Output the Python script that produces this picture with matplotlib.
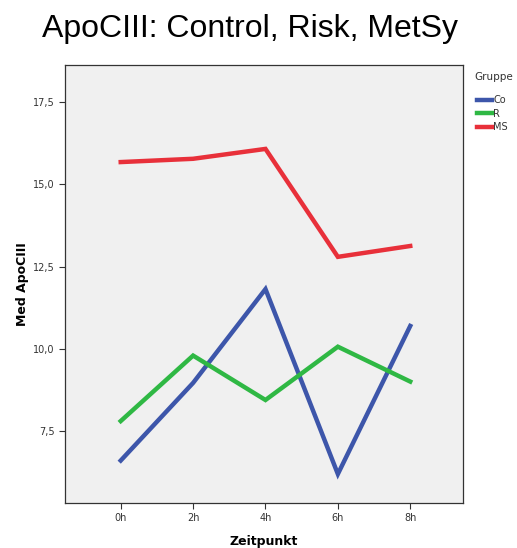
import matplotlib.pyplot as plt

# Data
zeitpunkt = ['0h', '2h', '4h', '6h', '8h']
co = [6.61, 8.97, 11.82, 6.20, 10.70]
r = [7.81, 9.80, 8.45, 10.07, 9.01]
ms = [15.68, 15.78, 16.08, 12.80, 13.13]
yticks = [7.5, 10.0, 12.5, 15.0, 17.5]

fig = plt.figure(figsize=(5.17, 5.48), dpi=100)
ax = fig.add_axes([0.1257, 0.0821, 0.770, 0.7993])
ax.set_facecolor('#f0f0f0')

x = range(len(zeitpunkt))
ax.plot(x, co, color='#3d56aa', lw=3.2, label='Co', solid_joinstyle='miter')
ax.plot(x, r, color='#2fb844', lw=3.2, label='R', solid_joinstyle='miter')
ax.plot(x, ms, color='#e8303a', lw=3.2, label='MS', solid_joinstyle='miter')

ax.set_xlim(-0.77, 4.73)
ax.set_ylim(5.32, 18.63)
ax.set_xticks(list(x))
ax.set_xticklabels(zeitpunkt)
ax.set_yticks(yticks)
ax.set_yticklabels([f'{v:.1f}'.replace('.', ',') for v in yticks])
ax.tick_params(labelsize=7, length=4, color='#333333', labelcolor='#333333')
for s in ax.spines.values():
    s.set_color('#333333')
    s.set_linewidth(0.9)

ax.set_xlabel('Zeitpunkt', fontsize=9, fontweight='bold', labelpad=8)
ax.set_ylabel('Med ApoCIII', fontsize=9, fontweight='bold', labelpad=3)

fig.text(0.483, 0.947, 'ApoCIII: Control, Risk, MetSy', ha='center', va='center',
         fontsize=23, family='Liberation Sans')

# legend outside on the right
fig.text(0.918, 0.859, 'Gruppe', ha='left', va='center', fontsize=7.5, color='#333333')
leg = ax.legend(loc='upper left', bbox_to_anchor=(1.03, 0.935),
                frameon=False, fontsize=7, handlelength=1.5,
                handletextpad=0.15, labelspacing=0.35, borderaxespad=0.0,
                borderpad=0.2)
for t in leg.get_texts():
    t.set_color('#333333')

fig.savefig('out.png', dpi=100)
